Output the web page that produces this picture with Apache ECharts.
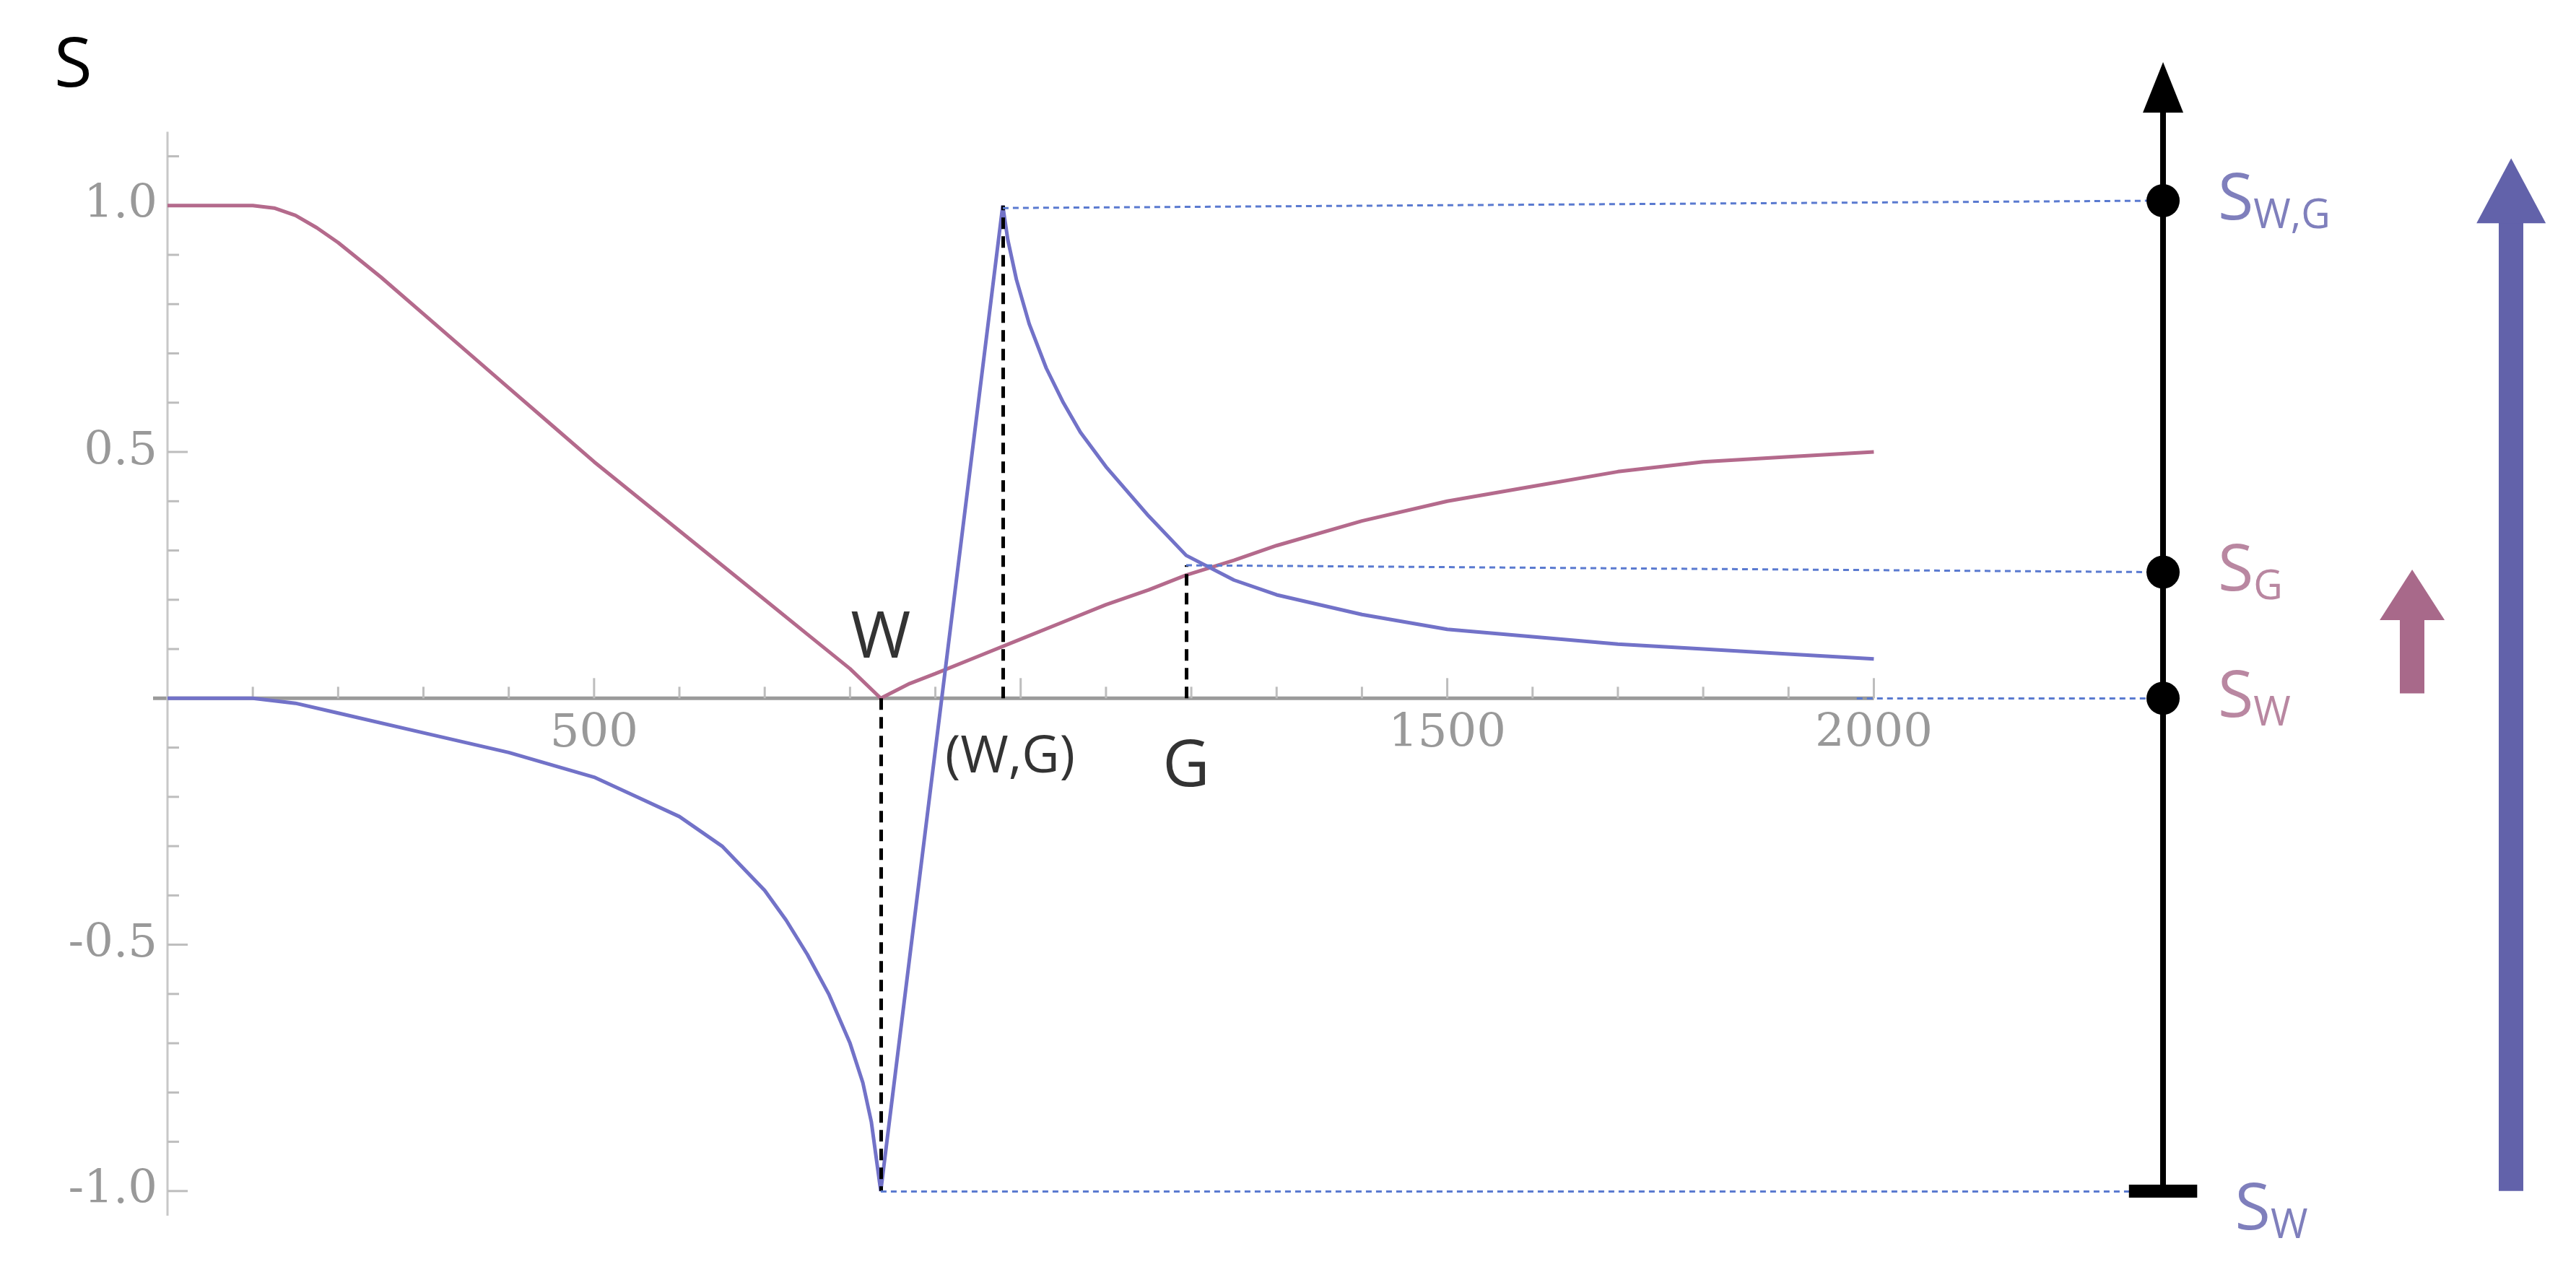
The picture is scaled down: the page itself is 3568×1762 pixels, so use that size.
<!DOCTYPE html>
<html>
<head>
<meta charset="utf-8">
<title>S curves</title>
<script src="https://cdn.jsdelivr.net/npm/echarts@6/dist/echarts.min.js"></script>
<style>html,body{margin:0;background:#fff}</style>
</head>
<body>
<div id="main" style="width:3568px;height:1762px;"></div>
<script>
// red curve (S of gas) and blue curve
var redX = [0,100,125,150,175,200,250,300,350,400,450,500,550,600,650,700,750,800,836,870,900,950,1000,1050,1100,1150,1194,1250,1300,1400,1500,1600,1700,1800,1900,2000];
var redY = [1,1,0.995,0.98,0.955,0.925,0.855,0.78,0.705,0.63,0.555,0.48,0.41,0.34,0.27,0.2,0.13,0.06,0,0.03,0.05,0.085,0.12,0.155,0.19,0.22,0.25,0.28,0.31,0.36,0.40,0.43,0.46,0.48,0.49,0.5];
var blueX = [0,100,150,200,300,400,500,550,600,650,700,725,750,775,800,815,825,836,979,985,995,1010,1030,1050,1070,1100,1150,1194,1250,1300,1400,1500,1600,1700,1800,1900,2000];
var blueY = [0,0,-0.01,-0.03,-0.07,-0.11,-0.16,-0.2,-0.24,-0.3,-0.39,-0.45,-0.52,-0.6,-0.7,-0.78,-0.86,-1,1,0.93,0.85,0.76,0.67,0.6,0.54,0.47,0.37,0.29,0.24,0.21,0.17,0.14,0.125,0.11,0.1,0.09,0.08];
var xTickLabels = [500,1500,2000];
var yTickLabels = [-1.0,-0.5,0.5,1.0];
var pW = 836, pWG = 979, pG = 1194, sG = 0.27;
var axisX = 2339, arrowPinkX = 2631, arrowBlueX = 2747;

var pink = '#b46a8c', blue = '#7272c8', labBlue = '#5f5fab', labPink = '#a8698a';

function zip(a, b) { return a.map(function (v, i) { return [v, b[i]]; }); }

var chart = echarts.init(document.getElementById('main'));

function axesRender(params, api) {
  var kids = [];
  var o = api.coord([0, 0]);
  var xe = api.coord([2000, 0]);
  var yt = api.coord([0, 1.15]);
  var yb = api.coord([0, -1.05]);
  var grey = '#9a9a9a';
  kids.push({type: 'line', shape: {x1: o[0] - 20, y1: o[1], x2: xe[0], y2: o[1]}, style: {stroke: grey, lineWidth: 5}});
  kids.push({type: 'line', shape: {x1: o[0], y1: yt[1], x2: o[0], y2: yb[1]}, style: {stroke: '#c8c8c8', lineWidth: 3}});
  for (var x = 100; x <= 2000; x += 100) {
    var p = api.coord([x, 0]);
    var len = x % 500 === 0 ? 28 : 16;
    kids.push({type: 'line', shape: {x1: p[0], y1: p[1], x2: p[0], y2: p[1] - len}, style: {stroke: '#bdbdbd', lineWidth: 3}});
  }
  for (var i = -10; i <= 11; i++) {
    if (i === 0) continue;
    var q = api.coord([0, i / 10]);
    var l = i % 5 === 0 ? 28 : 16;
    kids.push({type: 'line', shape: {x1: q[0], y1: q[1], x2: q[0] + l, y2: q[1]}, style: {stroke: '#bdbdbd', lineWidth: 3}});
  }
  xTickLabels.forEach(function (v) {
    var p = api.coord([v, 0]);
    kids.push({type: 'text', style: {text: String(v), x: p[0], y: p[1] + 18, align: 'center', verticalAlign: 'top', font: '64px "DejaVu Serif"', fill: '#999'}});
  });
  yTickLabels.forEach(function (v) {
    var p = api.coord([0, v]);
    kids.push({type: 'text', style: {text: v.toFixed(1), x: p[0] - 14, y: p[1], align: 'right', verticalAlign: 'middle', font: '64px "DejaVu Serif"', fill: '#999'}});
  });
  return {type: 'group', children: kids};
}

var dash = {type: [16, 10], width: 5, color: '#000'};
var dot = {type: [8, 6], width: 3, color: '#5a7ad0'};
function seg(a, b, ls) {
  return [{coord: a, symbol: 'none', lineStyle: ls}, {coord: b, symbol: 'none'}];
}

var option = {
  animation: false,
  grid: {left: 232, right: 0, top: 80, bottom: 78},
  xAxis: {type: 'value', min: 0, max: 2823, show: false},
  yAxis: {type: 'value', min: -1.05, max: 1.3, show: false},
  graphic: [
    {type: 'text', left: 75, top: 45, style: {text: 'S', font: '96px "Open Sans"', fill: '#000'}}
  ],
  series: [
    {type: 'custom', renderItem: axesRender, data: [0], silent: true, z: 1},
    {type: 'line', data: zip(redX, redY), showSymbol: false, smooth: false,
      lineStyle: {color: pink, width: 5}, z: 3},
    {type: 'line', data: zip(blueX, blueY), showSymbol: false, smooth: false,
      lineStyle: {color: blue, width: 5}, z: 3},
    {type: 'line', data: [], z: 5,
      markLine: {silent: true, animation: false, label: {show: false}, symbol: 'none',
        data: [
          seg([pW, 0], [pW, -1], dash),
          seg([pWG, 0], [pWG, 1], dash),
          seg([pG, 0], [pG, sG], dash),
          seg([pWG, 0.995], [axisX, 1.01], dot),
          seg([pG, sG], [axisX, 0.256], dot),
          seg([1980, 0], [axisX, 0], dot),
          seg([pW, -1], [axisX, -1], dot),
          [{coord: [axisX, -1], symbol: 'none', lineStyle: {color: '#000', width: 8, type: 'solid'}},
           {coord: [axisX, 1.24], symbol: 'triangle', symbolSize: [56, 70]}],
          seg([axisX - 40, -1], [axisX + 40, -1], {color: '#000', width: 18, type: 'solid'}),
          [{coord: [arrowPinkX, 0.01], symbol: 'none', lineStyle: {color: labPink, width: 34, type: 'solid'}},
           {coord: [arrowPinkX, 0.21], symbol: 'triangle', symbolSize: [90, 70]}],
          [{coord: [arrowBlueX, -1.0], symbol: 'none', lineStyle: {color: '#6262aa', width: 34, type: 'solid'}},
           {coord: [arrowBlueX, 1.03], symbol: 'triangle', symbolSize: [96, 90]}]
        ]}
    },
    {type: 'scatter', data: [[axisX, 1.01], [axisX, 0.256], [axisX, 0]], symbolSize: 46,
      itemStyle: {color: '#000', opacity: 1}, z: 6},
    {type: 'scatter', data: [
        {value: [pW, 0.12], name: 'W', c: '#000', s: 90},
        {value: [(pWG + pW) / 2 + 80, -0.12], name: '(W,G)', c: '#000', s: 72},
        {value: [pG, -0.14], name: 'G', c: '#000', s: 90},
        {value: [axisX + 60, 1.01], name: 'S{s|W,G}', c: labBlue, s: 90},
        {value: [axisX + 60, 0.256], name: 'S{s|G}', c: labPink, s: 90},
        {value: [axisX + 60, 0], name: 'S{s|W}', c: labPink, s: 90},
        {value: [axisX + 80, -1.04], name: 'S{s|W}', c: labBlue, s: 90}
      ].map(function (d) {
        var left = d.value[0] > 2000;
        return {value: d.value, label: {show: true, formatter: d.name, color: d.c, fontSize: d.s,
          fontFamily: 'Open Sans', position: left ? 'right' : 'inside', align: left ? 'left' : 'center',
          rich: {s: {fontSize: d.s * 0.62, color: d.c, fontFamily: 'Open Sans', padding: [44, 0, 0, 0]}}}};
      }),
      symbolSize: 0, silent: true, z: 7}
  ]
};
chart.setOption(option);
</script>
</body>
</html>
